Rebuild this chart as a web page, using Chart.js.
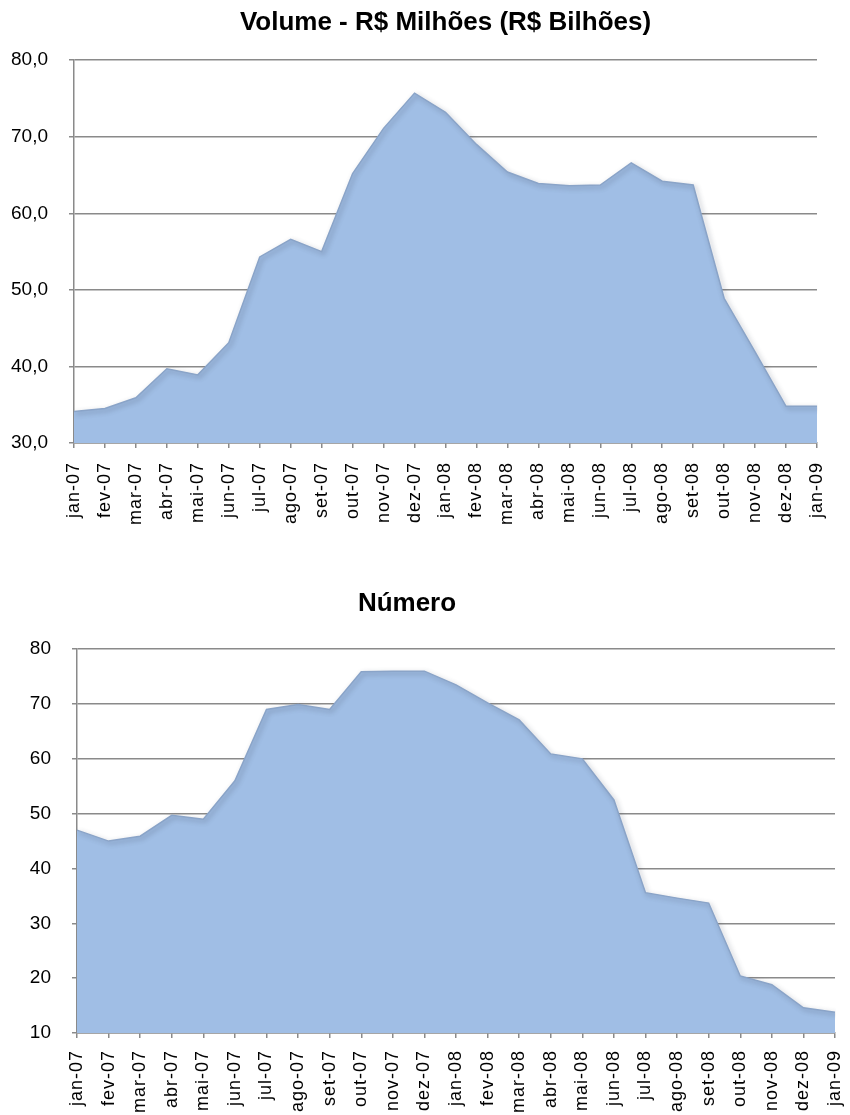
<!DOCTYPE html>
<html>
<head>
<meta charset="utf-8">
<script src="https://cdn.jsdelivr.net/npm/chart.js@4.4.1/dist/chart.umd.min.js"></script>
<style>
  body { margin: 0; background: #fff; overflow: hidden; }
  #wrap { position: relative; width: 850px; height: 1115px; overflow: hidden; }
  #volChart { position: absolute; left: 0; top: 0; }
  #numChart { position: absolute; left: -21px; top: 560px; }
</style>
</head>
<body>
<div id="wrap">
  <canvas id="volChart" width="850" height="540"></canvas>
  <canvas id="numChart" width="871" height="555"></canvas>
</div>
<script>
var months = ["jan-07", "fev-07", "mar-07", "abr-07", "mai-07", "jun-07", "jul-07", "ago-07", "set-07",
              "out-07", "nov-07", "dez-07", "jan-08", "fev-08", "mar-08", "abr-08", "mai-08", "jun-08",
              "jul-08", "ago-08", "set-08", "out-08", "nov-08", "dez-08", "jan-09"];
var volume = [34.1, 34.5, 35.9, 39.7, 38.9, 43.1, 54.3, 56.6, 55.0, 65.2, 71.1, 75.7, 73.2,
              69.0, 65.4, 63.9, 63.6, 63.7, 66.6, 64.2, 63.7, 48.9, 41.9, 34.8, 34.8];
var numero = [47.0, 45.0, 45.9, 49.7, 49.0, 56.0, 69.0, 69.9, 69.0, 75.9, 76.0, 76.0, 73.5,
              70.2, 67.1, 60.9, 60.0, 52.5, 35.6, 34.6, 33.7, 20.4, 18.8, 14.6, 13.8];
var volTicks = [30, 80, 10];
var numTicks = [10, 80, 10];

var FONT = "'Liberation Sans', Arial, sans-serif";
var GRID = '#8a8a8a';

// soft drop shadow on the filled area, like the bevelled Excel look
var bevel = {
    id: 'bevel',
    beforeDatasetDraw: function(chart) {
        var c = chart.ctx;
        c.save();
        c.shadowColor = 'rgba(50, 60, 80, 0.45)';
        c.shadowBlur = 5;
        c.shadowOffsetX = 2;
        c.shadowOffsetY = 2;
    },
    afterDatasetDraw: function(chart) {
        chart.ctx.restore();
    }
};

// stretched month labels
var spacedLabels = {
    id: 'spacedLabels',
    beforeDraw: function(chart) {
        var sc = chart.scales.x;
        if (sc._spaced) return;
        var orig = sc.drawLabels.bind(sc);
        sc.drawLabels = function(area) {
            chart.ctx.save();
            chart.ctx.letterSpacing = '1px';
            orig(area);
            chart.ctx.restore();
        };
        sc._spaced = true;
    }
};

function makeChart(el, title, values, ticks, opts) {
    return new Chart(el, {
        type: 'line',
        data: {
            labels: months,
            datasets: [{
                data: values,
                fill: 'start',
                backgroundColor: '#a0bee5',
                borderColor: '#8aa4c8',
                borderWidth: 1.5,
                pointRadius: 0,
                tension: 0
            }]
        },
        options: {
            responsive: false,
            animation: false,
            layout: { padding: { left: 0, right: opts.padRight, top: 0, bottom: 0 } },
            plugins: {
                legend: { display: false },
                tooltip: { enabled: false },
                title: {
                    display: true,
                    text: title,
                    color: '#000',
                    fullSize: opts.fullSize,
                    font: { family: FONT, size: 26, weight: 'bold', lineHeight: 1.2 },
                    padding: { top: opts.titleTop, bottom: opts.titleBottom }
                }
            },
            scales: {
                x: {
                    offset: false,
                    grid: { display: true, drawOnChartArea: false, drawTicks: true, tickLength: 5, color: GRID, lineWidth: 1.5 },
                    border: { display: true, color: GRID, width: 1.5 },
                    ticks: {
                        autoSkip: false, maxRotation: 90, minRotation: 90,
                        padding: opts.xPad, color: '#000',
                        font: { family: FONT, size: 18 }
                    },
                    afterFit: function(s) {
                        s.height = opts.xHeight;
                        s.paddingLeft = 0;
                        s.paddingRight = 0;
                    }
                },
                y: {
                    min: ticks[0], max: ticks[1],
                    grid: { color: GRID, lineWidth: 1.5, tickLength: 5 },
                    border: { display: true, color: GRID, width: 1.5 },
                    ticks: {
                        stepSize: ticks[2], padding: 21, color: '#000',
                        font: { family: FONT, size: 19 },
                        callback: opts.fmt
                    },
                    afterFit: function(s) { s.width = opts.yWidth; }
                }
            }
        },
        plugins: [bevel, spacedLabels]
    });
}

makeChart(document.getElementById('volChart'), 'Volume - R$ Milhões (R$ Bilhões)', volume, volTicks, {
    padRight: 33, fullSize: false, titleTop: 7, titleBottom: 22,
    xHeight: 97, xPad: 14, yWidth: 74,
    fmt: function(v) { return v.toFixed(1).replace('.', ','); }
});

makeChart(document.getElementById('numChart'), 'Número', numero, numTicks, {
    padRight: 15, fullSize: true, titleTop: 28, titleBottom: 30,
    xHeight: 82, xPad: 12, yWidth: 98,
    fmt: function(v) { return String(v); }
});
</script>
</body>
</html>
